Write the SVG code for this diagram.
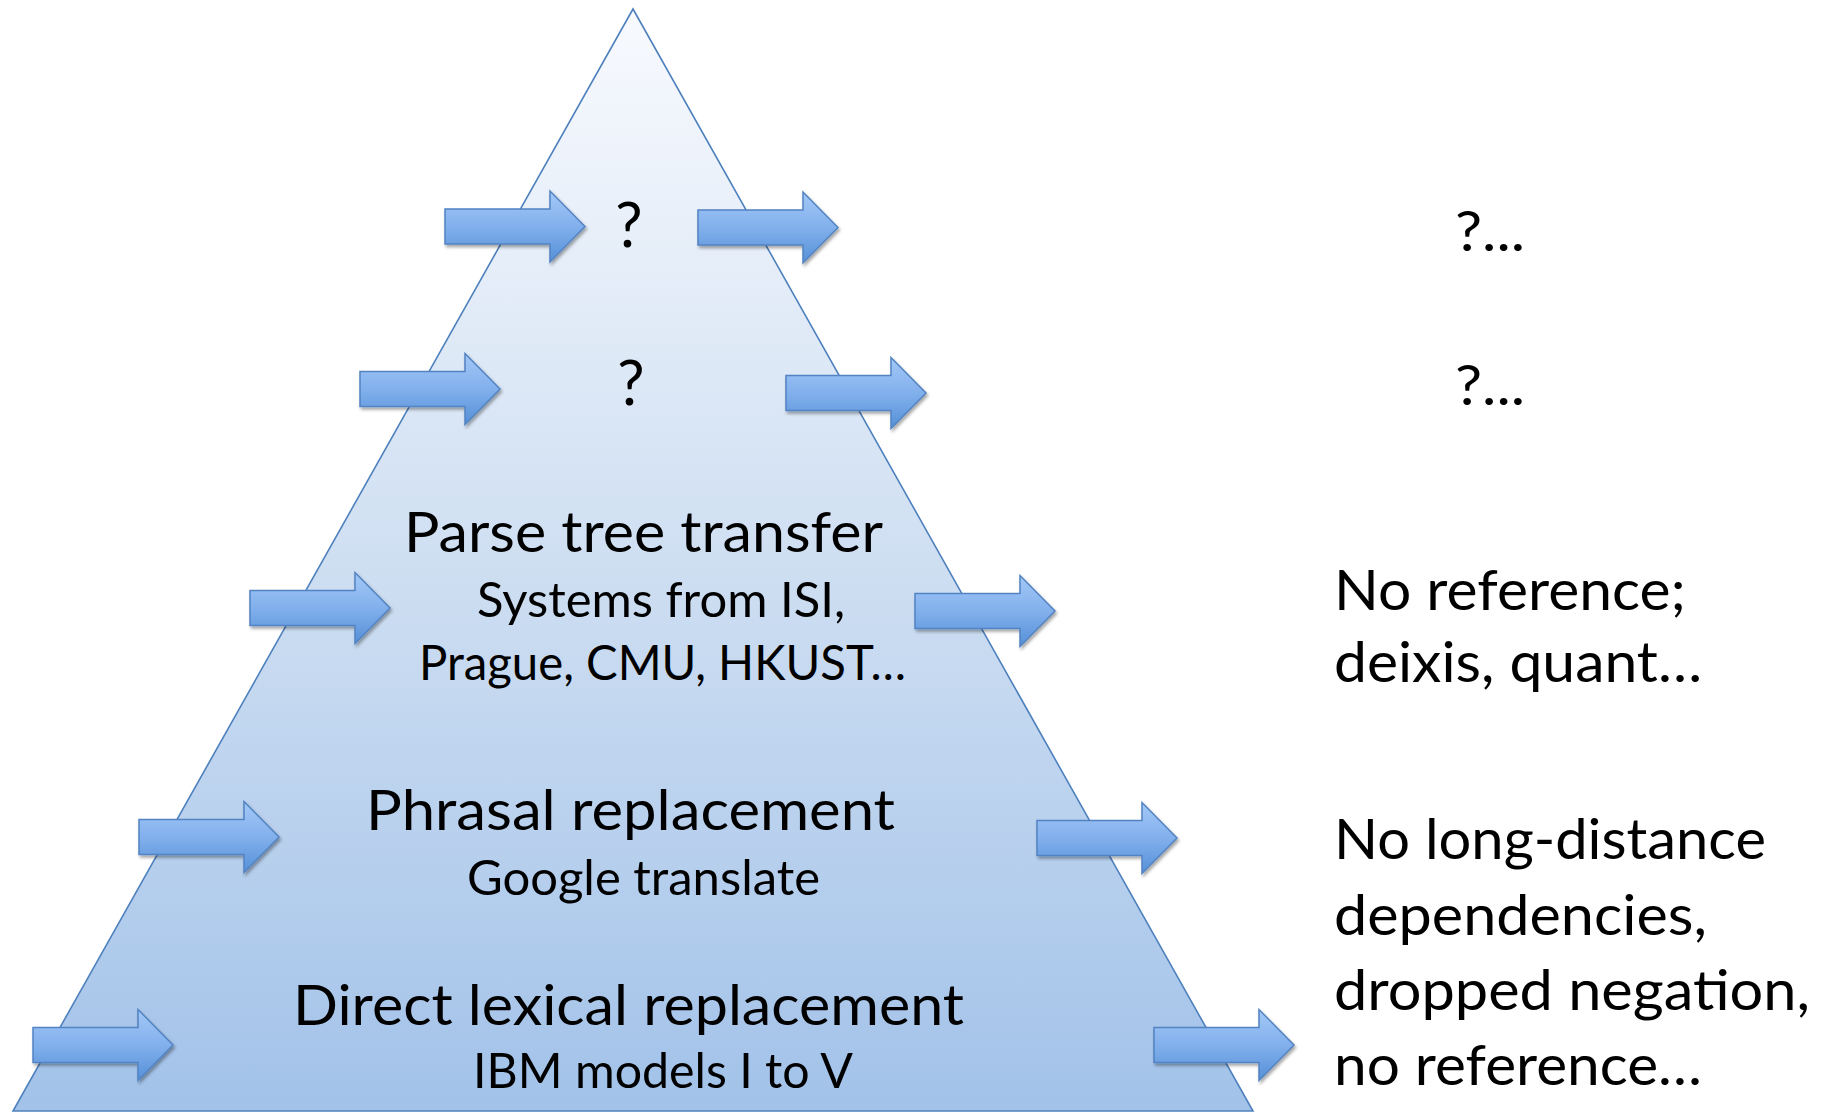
<svg xmlns="http://www.w3.org/2000/svg" xmlns:xlink="http://www.w3.org/1999/xlink" width="1834" height="1112" viewBox="0 0 1834 1112">
  <style>
    .t { font-family: Lato, "Open Sans", "Liberation Sans", sans-serif; fill: #000; }
    .title { font-size: 57px; }
    .sub { font-size: 48px; }
    .side { font-size: 57px; }
    .q { font-size: 61px; }
  </style>
  <defs>
    <!-- pyramid fill: pale at the apex, deeper blue toward the base -->
    <linearGradient id="pyramidFill" gradientUnits="userSpaceOnUse" x1="0" y1="9" x2="0" y2="1111">
      <stop offset="0" stop-color="#f8fafe"/>
      <stop offset="0.5" stop-color="#cfdff2"/>
      <stop offset="1" stop-color="#a2c2e9"/>
    </linearGradient>
    <!-- block arrow fill -->
    <linearGradient id="arrowFill" x1="0" y1="0" x2="0" y2="1">
      <stop offset="0" stop-color="#a3c8f7"/>
      <stop offset="0.5" stop-color="#82b0ec"/>
      <stop offset="1" stop-color="#5590d8"/>
    </linearGradient>
    <filter id="softShadow" x="-10%" y="-20%" width="125%" height="150%">
      <feDropShadow dx="1.5" dy="2.5" stdDeviation="1.8" flood-color="#000" flood-opacity="0.35"/>
    </filter>
    <!-- block arrow, origin at left end of the shaft centre line -->
    <path id="blockArrow" d="M0,-17.5 H105 V-35.5 L140,0 L105,35.5 V17.5 H0 Z"
          fill="url(#arrowFill)" stroke="#5283c2" stroke-width="1.5" stroke-linejoin="miter"/>
  </defs>

  <rect width="1834" height="1112" fill="#ffffff"/>

  <!-- pyramid -->
  <g id="pyramid">
    <polygon points="633,9 13,1111 1253,1111" fill="url(#pyramidFill)" stroke="#4f81bd" stroke-width="1.6" stroke-linejoin="miter"/>
  </g>

  <!-- levels of the pyramid -->
  <g id="level-top">
    <text class="t q" x="629" y="247" text-anchor="middle">?</text>
  </g>
  <g id="level-second">
    <text class="t q" x="631" y="405" text-anchor="middle">?</text>
  </g>
  <g id="level-parse-tree">
    <text class="t title" x="404" y="552" textLength="479" lengthAdjust="spacingAndGlyphs">Parse tree transfer</text>
    <text class="t sub" x="477" y="617" textLength="368" lengthAdjust="spacingAndGlyphs">Systems from ISI,</text>
    <text class="t sub" x="419" y="680" textLength="487" lengthAdjust="spacingAndGlyphs">Prague, CMU, HKUST…</text>
  </g>
  <g id="level-phrasal">
    <text class="t title" x="366" y="830" textLength="529" lengthAdjust="spacingAndGlyphs">Phrasal replacement</text>
    <text class="t sub" x="467" y="895" textLength="353" lengthAdjust="spacingAndGlyphs">Google translate</text>
  </g>
  <g id="level-lexical">
    <text class="t title" x="293" y="1025" textLength="671" lengthAdjust="spacingAndGlyphs">Direct lexical replacement</text>
    <text class="t sub" x="473" y="1088" textLength="380" lengthAdjust="spacingAndGlyphs">IBM models I to V</text>
  </g>

  <!-- outcomes on the right -->
  <g id="outcome-top">
    <text class="t side" x="1455" y="251" textLength="70" lengthAdjust="spacingAndGlyphs">?...</text>
  </g>
  <g id="outcome-second">
    <text class="t side" x="1455" y="405" textLength="70" lengthAdjust="spacingAndGlyphs">?...</text>
  </g>
  <g id="outcome-parse-tree">
    <text class="t side" x="1334" y="610" textLength="352" lengthAdjust="spacingAndGlyphs">No reference;</text>
    <text class="t side" x="1334" y="682" textLength="368" lengthAdjust="spacingAndGlyphs">deixis, quant…</text>
  </g>
  <g id="outcome-lexical">
    <text class="t side" x="1334" y="859" textLength="432" lengthAdjust="spacingAndGlyphs">No long-distance</text>
    <text class="t side" x="1334" y="935" textLength="373" lengthAdjust="spacingAndGlyphs">dependencies,</text>
    <text class="t side" x="1334" y="1010" textLength="476" lengthAdjust="spacingAndGlyphs">dropped negation,</text>
    <text class="t side" x="1334" y="1085" textLength="368" lengthAdjust="spacingAndGlyphs">no reference…</text>
  </g>

  <!-- arrows into and out of each level -->
  <g id="connectors" filter="url(#softShadow)">
    <use xlink:href="#blockArrow" x="445" y="226.5"/>
    <use xlink:href="#blockArrow" x="698" y="227.5"/>
    <use xlink:href="#blockArrow" x="360" y="389"/>
    <use xlink:href="#blockArrow" x="786" y="393"/>
    <use xlink:href="#blockArrow" x="250" y="608"/>
    <use xlink:href="#blockArrow" x="915" y="611"/>
    <use xlink:href="#blockArrow" x="139" y="837"/>
    <use xlink:href="#blockArrow" x="1037" y="838"/>
    <use xlink:href="#blockArrow" x="33" y="1045"/>
    <use xlink:href="#blockArrow" x="1154" y="1045"/>
  </g>
</svg>
